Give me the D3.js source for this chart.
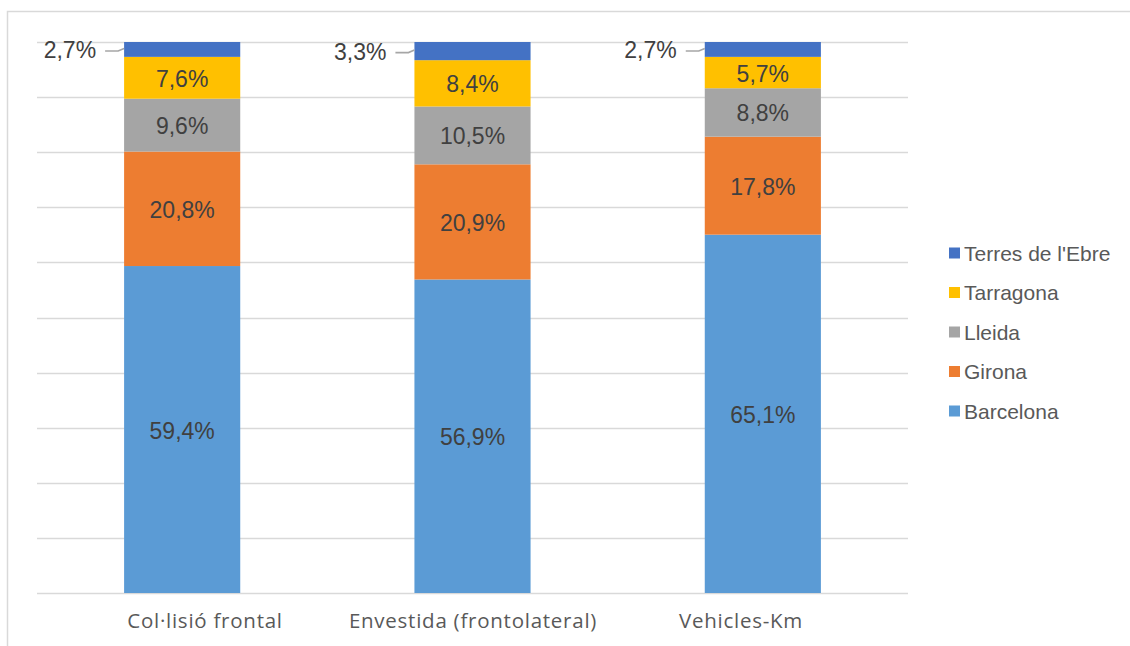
<!DOCTYPE html>
<html>
<head>
<meta charset="utf-8">
<script src="https://cdn.jsdelivr.net/npm/d3@7"></script>
<style>
  html, body { margin: 0; padding: 0; background: #fff; }
  svg { display: block; }
</style>
</head>
<body>
<svg id="chart" width="1130" height="646"></svg>
<script>
// Share of each territory (%) by indicator
const categories = ["Col·lisió frontal", "Envestida (frontolateral)", "Vehicles-Km"];
const seriesNames = ["Barcelona", "Girona", "Lleida", "Tarragona", "Terres de l'Ebre"];
const barcelona = [59.4, 56.9, 65.1];
const girona    = [20.8, 20.9, 17.8];
const lleida    = [9.6, 10.5, 8.8];
const tarragona = [7.6, 8.4, 5.7];
const terres    = [2.7, 3.3, 2.7];
const yTicks = [0, 10, 20, 30, 40, 50, 60, 70, 80, 90, 100];

const colors = {
  "Barcelona": "#5B9BD5",
  "Girona": "#ED7D31",
  "Lleida": "#A5A5A5",
  "Tarragona": "#FFC000",
  "Terres de l'Ebre": "#4472C4"
};

const valuesBySeries = {
  "Barcelona": barcelona,
  "Girona": girona,
  "Lleida": lleida,
  "Tarragona": tarragona,
  "Terres de l'Ebre": terres
};

const rows = categories.map((c, i) => {
  const r = { category: c };
  seriesNames.forEach(s => { r[s] = valuesBySeries[s][i]; });
  return r;
});

const svg = d3.select("#chart");
const plot = { left: 37, right: 908, top: 42, bottom: 593 };

const x = d3.scaleBand().domain(categories)
  .range([plot.left, plot.right]).paddingInner(0.6).paddingOuter(0.3);
const y = d3.scaleLinear().domain([0, 100]).range([plot.bottom, plot.top]);

// Outer frame (top and left edges)
svg.append("path")
  .attr("d", "M7.5,646 L7.5,11.5 L1130,11.5")
  .attr("fill", "none").attr("stroke", "#d9d9d9").attr("stroke-width", 1.5);

// Horizontal gridlines
svg.append("g").selectAll("line").data(yTicks).join("line")
  .attr("x1", plot.left).attr("x2", plot.right)
  .attr("y1", d => Math.round(y(d)) + 0.5).attr("y2", d => Math.round(y(d)) + 0.5)
  .attr("stroke", "#d9d9d9").attr("stroke-width", 1.4);

// 100% stacked layout
const stack = d3.stack().keys(seriesNames).offset(d3.stackOffsetExpand);
const stacked = stack(rows);
const yFrac = v => y(v * 100);

const layers = svg.append("g").selectAll("g").data(stacked).join("g")
  .attr("fill", d => colors[d.key]);

layers.selectAll("rect").data(d => d).join("rect")
  .attr("x", d => x(d.data.category))
  .attr("width", x.bandwidth())
  .attr("y", d => yFrac(d[1]))
  .attr("height", d => yFrac(d[0]) - yFrac(d[1]));

// Value labels
const fmt = v => v.toFixed(1).replace(".", ",") + "%";
const labelFont = "Liberation Sans, Arial, sans-serif";
const topKey = seriesNames[seriesNames.length - 1];
const labels = svg.append("g");

stacked.forEach(layer => {
  layer.forEach(d => {
    const v = d.data[layer.key];
    const cy = (yFrac(d[0]) + yFrac(d[1])) / 2;
    const bx = x(d.data.category);
    if (layer.key === topKey) {
      // thin top segment: label sits outside on the left with a leader line
      labels.append("text")
        .attr("x", bx - 28).attr("y", cy + 1)
        .attr("text-anchor", "end").attr("dominant-baseline", "central")
        .attr("font-family", labelFont).attr("font-size", 23)
        .attr("fill", "#404040").text(fmt(v));
      labels.append("path")
        .attr("d", `M${bx - 19},${cy + 1.5} L${bx - 6},${cy + 1.5} L${bx},${cy - 1}`)
        .attr("fill", "none")
        .attr("stroke", "#a6a6a6").attr("stroke-width", 1.6);
    } else {
      labels.append("text")
        .attr("x", bx + x.bandwidth() / 2).attr("y", cy + 1)
        .attr("text-anchor", "middle").attr("dominant-baseline", "central")
        .attr("font-family", labelFont).attr("font-size", 23)
        .attr("fill", "#404040").text(fmt(v));
    }
  });
});

// Category labels
const xl = d3.scalePoint().domain(categories).range([205, 741]);
svg.append("g").selectAll("text").data(categories).join("text")
  .attr("x", d => xl(d)).attr("y", 628)
  .attr("text-anchor", "middle")
  .attr("font-family", "Open Sans, Noto Sans, sans-serif")
  .attr("font-size", 20.5)
  .attr("letter-spacing", 0.75)
  .attr("fill", "#595959")
  .text(d => d);

// Legend (top series first)
const legendItems = seriesNames.slice().reverse();
const ly = d3.scalePoint().domain(legendItems).range([253, 411]);
const lg = svg.append("g").selectAll("g").data(legendItems).join("g")
  .attr("transform", d => `translate(949,${ly(d)})`);
lg.append("rect")
  .attr("x", 0).attr("y", -5.5).attr("width", 11).attr("height", 11)
  .attr("fill", d => colors[d]);
lg.append("text")
  .attr("x", 15).attr("y", 0).attr("dominant-baseline", "central")
  .attr("font-family", labelFont).attr("font-size", 21)
  .attr("fill", "#595959")
  .text(d => d);
</script>
</body>
</html>
